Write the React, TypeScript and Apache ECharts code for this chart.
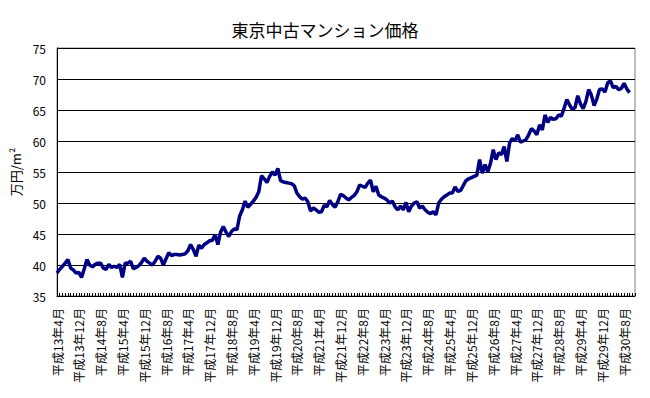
import React, { useEffect, useRef } from "react";
import * as echarts from "echarts";

// Monthly categories: 平成13年4月 ... 平成30年12月 (last two months have no data)
const START_YEAR = 13;
const START_MONTH = 4;
const CATEGORY_COUNT = 213;
const categories: string[] = [];
for (let k = 0; k < CATEGORY_COUNT; k++) {
  const m0 = START_MONTH - 1 + k;
  const y = START_YEAR + Math.floor(m0 / 12);
  const m = (m0 % 12) + 1;
  categories.push(`平成${y}年${m}月`);
}

const title = "東京中古マンション価格";
const yAxisName = "万円/m²";
const yTicks = { min: 35, max: 75, interval: 5 };

// 万円/m², monthly from 平成13年4月 to 平成30年10月
const prices: number[] = [
  38.7, 39.3, 39.8, 40.3, 40.9, 39.5, 39.2, 38.7, 38.8, 38.0,
  39.4, 40.9, 40.0, 39.7, 40.1, 40.3, 40.3, 39.5, 39.3, 40.1,
  39.6, 39.8, 39.6, 40.1, 38.0, 40.3, 40.3, 40.6, 39.4, 39.6,
  39.9, 40.4, 41.1, 40.6, 40.3, 40.0, 40.6, 41.4, 41.1, 40.0,
  41.0, 42.0, 41.5, 41.7, 41.7, 41.6, 41.7, 41.8, 42.3, 43.3,
  42.5, 41.4, 43.2, 42.7, 43.3, 43.6, 43.9, 44.0, 44.9, 43.3,
  45.3, 46.2, 45.3, 44.6, 45.4, 45.8, 45.7, 47.9, 48.9, 50.3,
  49.3, 49.8, 50.3, 50.9, 51.8, 54.4, 53.9, 53.3, 54.3, 55.0,
  54.5, 55.6, 53.6, 53.4, 53.3, 53.2, 53.1, 52.8, 51.6, 51.0,
  50.6, 50.8, 50.2, 48.7, 49.2, 48.9, 48.5, 48.6, 49.6, 49.4,
  50.4, 49.8, 49.3, 50.2, 51.4, 51.2, 50.8, 50.5, 50.9, 51.2,
  51.8, 52.9, 52.7, 52.5, 53.2, 53.7, 51.8, 52.7, 51.3, 51.0,
  50.8, 50.5, 50.0, 50.3, 49.4, 48.9, 49.5, 48.9, 50.1, 48.6,
  49.5, 50.0, 50.2, 49.2, 49.5, 48.9, 48.5, 48.3, 48.6, 48.1,
  50.0, 50.6, 51.0, 51.3, 51.6, 51.6, 52.6, 51.9, 52.0, 52.8,
  53.6, 53.9, 54.1, 54.3, 54.5, 57.0, 54.8, 56.2, 55.0, 56.4,
  58.6, 57.0, 58.1, 57.8, 59.1, 56.7, 59.7, 60.4, 60.0, 61.0,
  59.8, 60.0, 60.2, 61.0, 62.0, 61.6, 61.0, 62.6, 61.8, 64.2,
  63.0, 63.8, 63.5, 63.6, 64.2, 64.0, 65.3, 66.7, 65.8, 65.1,
  65.4, 67.3, 66.0, 65.2, 66.4, 68.3, 67.4, 65.7, 66.8, 68.3,
  68.4, 67.9, 69.4, 69.7, 68.6, 68.8, 68.3, 68.5, 69.3, 68.4,
  67.8,
];

const FONT = "'Noto Sans CJK JP', 'Noto Sans', sans-serif";

export default function App() {
  const ref = useRef<HTMLDivElement>(null);
  useEffect(() => {
    document.body.style.margin = "0";
    if (!ref.current) return;
    const chart = echarts.init(ref.current, undefined, { renderer: "svg" });
    chart.setOption({
      animation: false,
      backgroundColor: "#ffffff",
      textStyle: { fontFamily: FONT, color: "#000" },
      title: {
        text: title,
        left: "center",
        top: 16,
        textStyle: { fontFamily: FONT, fontSize: 17, fontWeight: "normal", color: "#000" },
      },
      grid: {
        left: 57,
        top: 48,
        right: 15,
        bottom: 102,
        show: true,
        borderColor: "#808080",
        borderWidth: 1,
        backgroundColor: "transparent",
      },
      xAxis: {
        type: "category",
        data: categories,
        boundaryGap: false,
        axisLine: { show: true, lineStyle: { color: "#000", width: 1 } },
        axisTick: { show: true, interval: 0, inside: true, length: 3, lineStyle: { color: "#000" } },
        axisLabel: {
          interval: 7,
          rotate: 90,
          margin: 12,
          fontSize: 12,
          color: "#000",
          fontFamily: FONT,
          padding: [0, 0, 7, 0],
        },
        splitLine: { show: false },
      },
      yAxis: {
        type: "value",
        min: yTicks.min,
        max: yTicks.max,
        interval: yTicks.interval,
        name: yAxisName,
        nameLocation: "middle",
        nameGap: 30,
        nameRotate: 90,
        nameTextStyle: { fontSize: 13, color: "#000", fontFamily: FONT },
        axisLine: { show: true, lineStyle: { color: "#000", width: 1 } },
        axisTick: { show: false },
        axisLabel: { fontSize: 12, color: "#000", margin: 11, fontFamily: FONT },
        splitLine: { show: true, lineStyle: { color: "#000", width: 1 } },
      },
      series: [
        {
          type: "line",
          data: prices,
          showSymbol: false,
          symbol: "none",
          lineStyle: { color: "#000080", width: 3.5 },
          itemStyle: { color: "#000080" },
        },
      ],
    });
    return () => chart.dispose();
  }, []);
  return <div ref={ref} style={{ width: 650, height: 398 }} />;
}
